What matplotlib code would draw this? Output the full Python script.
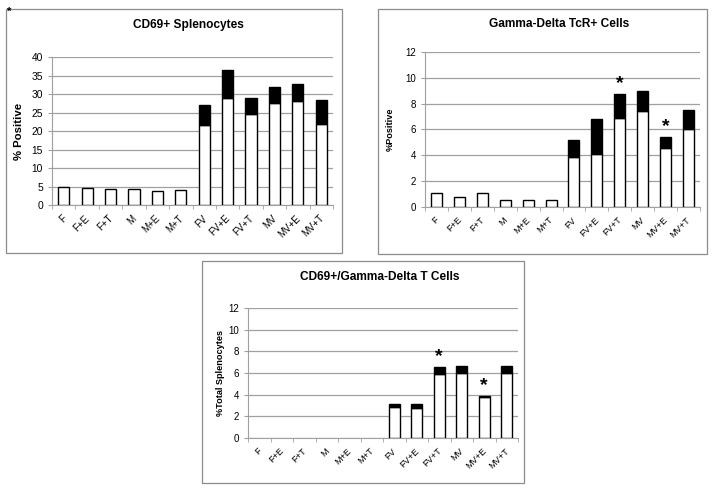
import matplotlib
matplotlib.use("Agg")
import matplotlib.pyplot as plt
from matplotlib.patches import Rectangle
import numpy as np

plt.rcParams['font.family'] = ['Liberation Sans', 'DejaVu Sans']

groups = ["F", "F+E", "F+T", "M", "M+E", "M+T", "FV", "FV+E", "FV+T", "MV", "MV+E", "MV+T"]

# white part of each bar and the total height (top of the black part)
cd69_low = [4.85, 4.7, 4.3, 4.3, 3.7, 4.1, 21.6, 28.8, 24.5, 27.7, 28.0, 21.8]
cd69_top = [4.85, 4.7, 4.3, 4.3, 3.7, 4.1, 27.0, 36.6, 28.8, 31.9, 32.7, 28.3]

gd_low = [1.08, 0.75, 1.08, 0.57, 0.57, 0.57, 3.85, 4.1, 6.9, 7.46, 4.54, 6.0]
gd_top = [1.08, 0.75, 1.08, 0.57, 0.57, 0.57, 5.2, 6.8, 8.75, 9.0, 5.42, 7.5]

both_low = [0, 0, 0, 0, 0, 0, 2.9, 2.75, 5.9, 6.0, 3.8, 6.0]
both_top = [0, 0, 0, 0, 0, 0, 3.15, 3.15, 6.6, 6.67, 3.9, 6.67]

stars = ["FV+T", "MV+E"]

W, H = 716, 491
fig = plt.figure(figsize=(W / 100, H / 100), dpi=100, facecolor="white")
grid_color = "#a0a0a0"


def px_box(x0, y0, x1, y1):
    fig.patches.append(Rectangle((x0 / W, 1 - y1 / H), (x1 - x0) / W, (y1 - y0) / H,
                                 transform=fig.transFigure, fill=False,
                                 edgecolor="#8c8c8c", linewidth=0.9))


def draw_panel(rect, low, top, title, ylabel, ymax, ystep, title_y, ylab_x,
               tick_fs, xlab_fs, ylab_fs, star_list=()):
    ax = fig.add_axes(rect)
    x = np.arange(len(groups))
    low = np.array(low)
    top = np.array(top)
    # skip empty segments so no flat outline is drawn
    m = low > 0
    ax.bar(x[m], low[m], width=0.48, color="white", edgecolor="black", linewidth=1.0, zorder=3)
    m2 = (top - low) > 0
    ax.bar(x[m2], (top - low)[m2], bottom=low[m2], width=0.48, color="black",
           edgecolor="black", linewidth=1.0, zorder=3)
    ax.set_xlim(-0.5, len(groups) - 0.5)
    ax.set_ylim(0, ymax)
    ax.set_yticks(np.arange(0, ymax + 0.01, ystep))
    ax.yaxis.grid(True, color=grid_color, linewidth=0.9)
    ax.set_axisbelow(True)
    for s in ["top", "right"]:
        ax.spines[s].set_visible(False)
    ax.spines["left"].set_color(grid_color)
    ax.spines["bottom"].set_color(grid_color)
    ax.tick_params(axis="y", colors="black", labelsize=tick_fs, length=3, color=grid_color)
    # tick marks at category boundaries, labels just left of each bar
    ax.set_xticks(np.arange(-0.5, len(groups), 1.0), minor=True)
    ax.tick_params(axis="x", which="minor", length=3, color=grid_color)
    ax.set_xticks(x - 0.1)
    ax.set_xticklabels(groups, rotation=45, ha="right", rotation_mode="anchor", fontsize=xlab_fs)
    ax.tick_params(axis="x", which="major", length=0, pad=6)
    ax.set_ylabel(ylabel, fontsize=ylab_fs, fontweight="bold")
    ax.yaxis.set_label_coords(ylab_x, 0.5)
    fig.text(rect[0] + rect[2] * 0.5 - 0.005, title_y, title, ha="center", va="center",
             fontsize=8.6, fontweight="bold")
    for g in star_list:
        i = groups.index(g)
        ax.text(i, top[i] + ymax * 0.01, "*", ha="center", va="bottom",
                fontsize=14, fontweight="bold")
    return ax


px_box(6, 9, 342, 253)
px_box(378, 9, 707, 254)
px_box(202, 261, 524, 483)

draw_panel([52 / W, 1 - 205 / H, 281 / W, 148 / H], cd69_low, cd69_top,
           "CD69+ Splenocytes", "% Positive", 40, 5, 1 - 25 / H, -0.1,
           7.4, 7.0, 8.2)
draw_panel([425 / W, 1 - 207 / H, 275 / W, 155 / H], gd_low, gd_top,
           "Gamma-Delta TcR+ Cells", "%Positive", 12, 2, 1 - 24 / H, -0.11,
           7.0, 6.6, 6.6, stars)
draw_panel([248 / W, 1 - 438 / H, 270 / W, 130 / H], both_low, both_top,
           "CD69+/Gamma-Delta T Cells", "%Total Splenocytes", 12, 2, 1 - 277 / H, -0.085,
           7.0, 6.6, 6.6, stars)

fig.text(9 / W, 1 - 12 / H, "*", ha="center", va="center", fontsize=8, fontweight="bold")

fig.savefig("out.png", dpi=100, facecolor="white")
